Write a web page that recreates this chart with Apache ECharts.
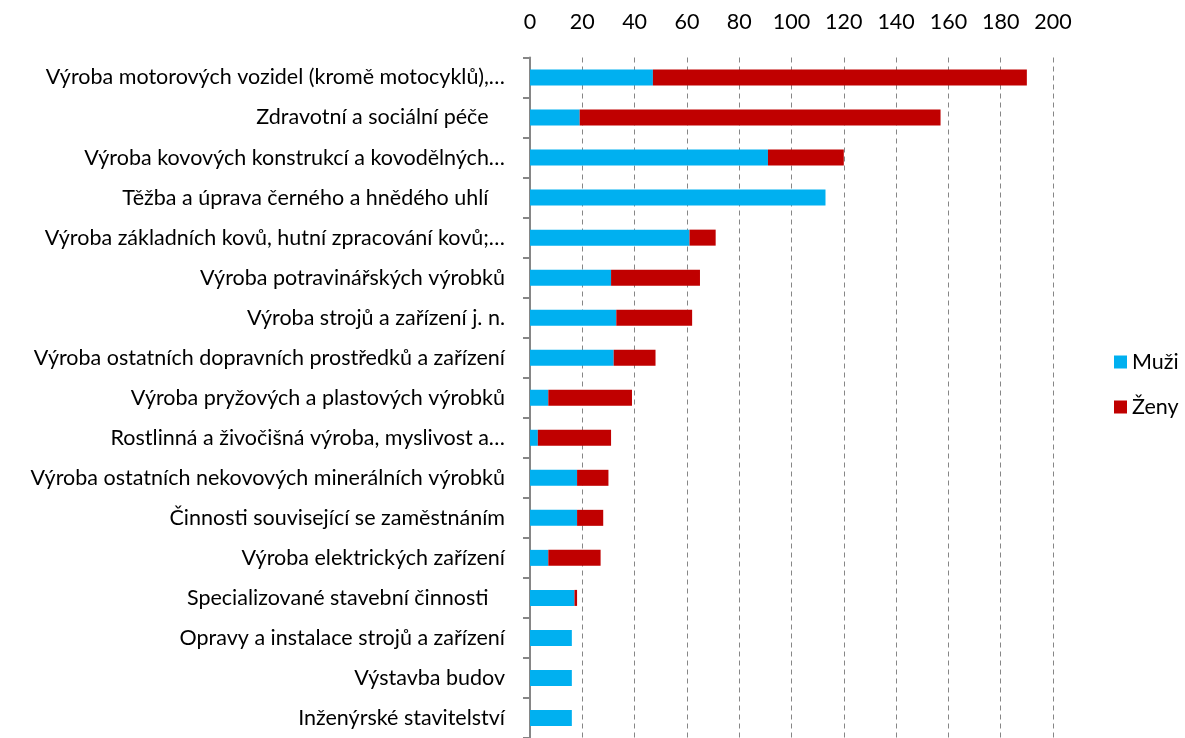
<!DOCTYPE html>
<html>
<head>
<meta charset="utf-8">
<script src="https://cdn.jsdelivr.net/npm/echarts@6/dist/echarts.min.js"></script>
<style>html,body{margin:0;padding:0;background:#fff}#c{width:1185px;height:738px}</style>
</head>
<body>
<div id="c"></div>
<script>
const categories = [
  "Výroba motorových vozidel (kromě motocyklů),…",
  "Zdravotní a sociální péče\u00a0\u00a0\u00a0",
  "Výroba kovových konstrukcí a kovodělných…",
  "Těžba a úprava černého a hnědého uhlí\u00a0\u00a0\u00a0",
  "Výroba základních kovů, hutní zpracování kovů;…",
  "Výroba potravinářských výrobků",
  "Výroba strojů a zařízení j. n.",
  "Výroba ostatních dopravních prostředků a zařízení",
  "Výroba pryžových a plastových výrobků",
  "Rostlinná a živočišná výroba, myslivost a…",
  "Výroba ostatních nekovových minerálních výrobků",
  "Činnosti související se zaměstnáním",
  "Výroba elektrických zařízení",
  "Specializované stavební činnosti\u00a0\u00a0\u00a0",
  "Opravy a instalace strojů a zařízení",
  "Výstavba budov",
  "Inženýrské stavitelství"
];
const muzi = [47, 19, 91, 113, 61, 31, 33, 32, 7, 3, 18, 18, 7, 17, 16, 16, 16];
const zeny = [143, 138, 29, 0, 10, 34, 29, 16, 32, 28, 12, 10, 20, 1, 0, 0, 0];
const xTicks = {min: 0, max: 200, interval: 20};
const seriesNames = ["Muži", "Ženy"];

const FONT = "Lato";
const FS = 21.5;
const chart = echarts.init(document.getElementById('c'));
chart.setOption({
  animation: false,
  textStyle: {fontFamily: FONT},
  grid: {left: 530, right: 132, top: 57.5, bottom: -4, containLabel: false},
  legend: {
    orient: 'vertical', left: 1109, top: 346, itemGap: 23,
    itemWidth: 13, itemHeight: 13, icon: 'rect',
    textStyle: {fontFamily: FONT, fontSize: FS, color: '#000'},
    data: seriesNames
  },
  xAxis: {
    type: 'value', position: 'top', min: xTicks.min, max: xTicks.max, interval: xTicks.interval,
    axisLine: {show: false}, axisTick: {show: false},
    axisLabel: {fontFamily: FONT, fontSize: FS, color: '#000', margin: 24},
    splitLine: {show: true, lineStyle: {color: '#868686', width: 1, type: [5, 4]}}
  },
  yAxis: {
    type: 'category', inverse: true, data: categories,
    axisLine: {show: true, lineStyle: {color: '#868686', width: 2}},
    axisTick: {show: true, length: 7, lineStyle: {color: '#868686', width: 2}},
    axisLabel: {fontFamily: FONT, fontSize: FS, color: '#000', margin: 25}
  },
  series: [
    {name: seriesNames[0], type: 'bar', stack: 't', data: muzi, barWidth: 16, itemStyle: {color: '#00B0F0'}},
    {name: seriesNames[1], type: 'bar', stack: 't', data: zeny, barWidth: 16, itemStyle: {color: '#C00000'}}
  ]
});
</script>
</body>
</html>
